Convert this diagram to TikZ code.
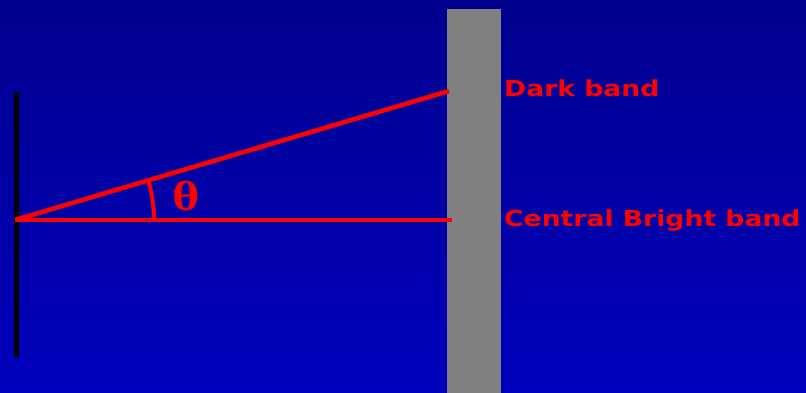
\documentclass[tikz,border=0pt]{standalone}
\usepackage{fontspec}
\usetikzlibrary{angles}
\newfontfamily\bandfont{DejaVu Sans}
\newfontfamily\thetafont{Liberation Serif}
\definecolor{bgtop}{RGB}{0,0,142}
\definecolor{bgbot}{RGB}{0,0,188}
\definecolor{bandred}{RGB}{255,0,0}
\definecolor{screengray}{RGB}{128,128,128}
\newcommand{\wide}[1]{\scalebox{1.21}[1]{#1}}

\begin{document}
\begin{tikzpicture}[x=1pt, y=1pt,
    ray/.style={bandred, line width=4.6pt},
    bandlabel/.style={text=bandred, anchor=base west, inner sep=0pt,
        font=\bandfont\bfseries\fontsize{22}{26}\selectfont}]
    % 背景
    \shade[top color=bgtop, bottom color=bgbot] (0,0) rectangle (806,393);
    \useasboundingbox (0,0) rectangle (806,393);

    % 定义坐标
    \coordinate (Src) at (15,173);     % 狭缝位置
    \coordinate (Dark) at (449,302);   % 暗纹
    \coordinate (Bright) at (452,173); % 中央亮纹

    % 屏幕与狭缝
    \fill[screengray] (447,0) rectangle (501,384);
    \draw[black, line width=5pt] (16.5,301) -- (16.5,36);

    % 光线
    \draw[ray] (Src) -- (Dark);
    \draw[ray] (Src) -- (Bright);

    % 角度 theta
    \pic [draw=bandred, line width=4pt, angle radius=139pt] {angle = Bright--Src--Dark};
    \node[text=bandred, inner sep=0pt] (Theta) at (186.5,197)
        {\thetafont\bfseries\fontsize{42}{46}\selectfont\scalebox{1.25}[1]{θ}};

    % 标注
    \node[bandlabel] (DarkLabel) at (504,296.5) {\wide{Dark band}};
    \node[bandlabel] (BrightLabel) at (504,166) {\wide{Central Bright band}};
\end{tikzpicture}
\end{document}
